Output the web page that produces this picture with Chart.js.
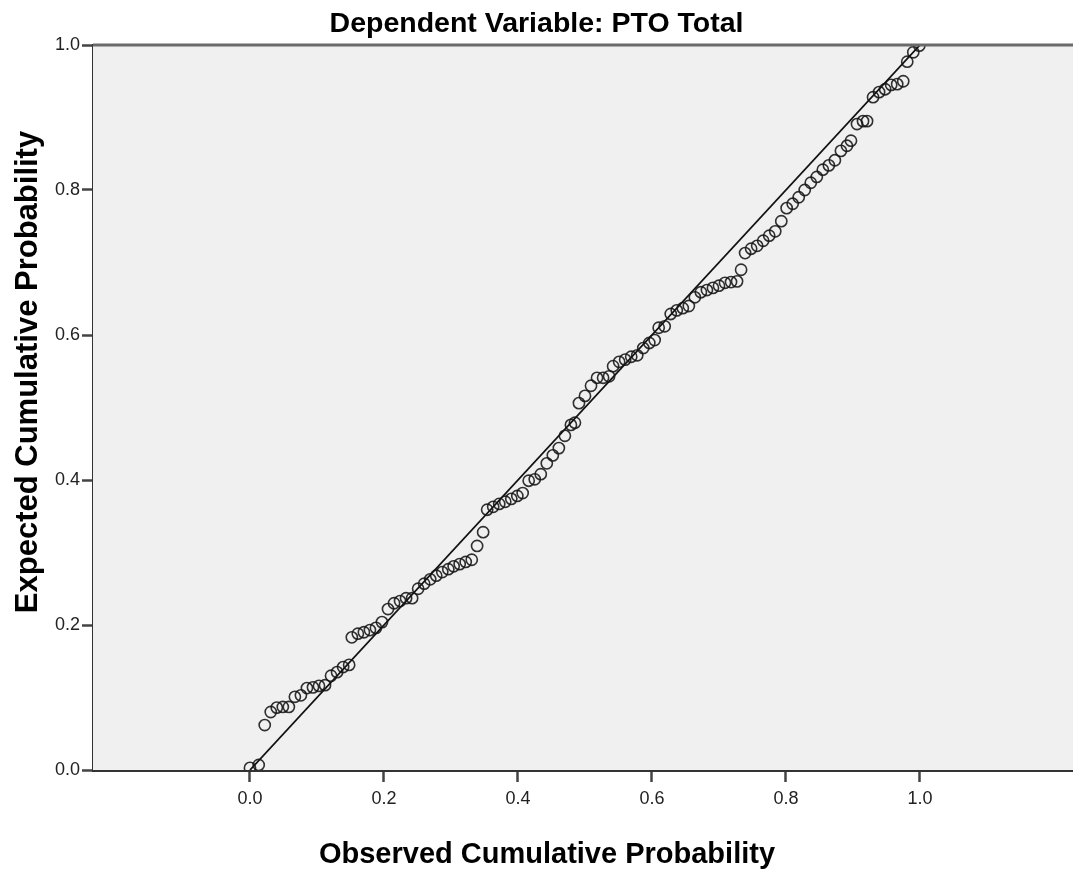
<!DOCTYPE html>
<html>
<head>
<meta charset="utf-8">
<script src="https://cdn.jsdelivr.net/npm/chart.js@4.4.1/dist/chart.umd.min.js"></script>
<style>
  html, body { margin: 0; padding: 0; background: #ffffff; overflow: hidden; }
  #wrap { width: 1073px; height: 871px; }
  canvas { display: block; }
</style>
</head>
<body>
<div id="wrap"><canvas id="c" width="1073" height="871"></canvas></div>
<script>
// ---- data ----
const chartTitle = "Dependent Variable: PTO Total";
const xAxisTitle = "Observed Cumulative Probability";
const yAxisTitle = "Expected Cumulative Probability";

const xTickValues = [0.0, 0.2, 0.4, 0.6, 0.8, 1.0];
const yTickValues = [0.0, 0.2, 0.4, 0.6, 0.8, 1.0];

const observedCum = [
  0.000, 0.013, 0.022, 0.031, 0.040, 0.049, 0.058, 0.067, 0.076, 0.085,
  0.094, 0.103, 0.112, 0.121, 0.130, 0.139, 0.148, 0.152, 0.161, 0.170,
  0.179, 0.188, 0.197, 0.206, 0.215, 0.224, 0.233, 0.242, 0.251, 0.260,
  0.269, 0.278, 0.287, 0.296, 0.304, 0.313, 0.322, 0.331, 0.339, 0.348,
  0.354, 0.363, 0.372, 0.381, 0.390, 0.399, 0.407, 0.416, 0.425, 0.434,
  0.443, 0.452, 0.461, 0.470, 0.479, 0.485, 0.491, 0.500, 0.509, 0.518,
  0.527, 0.536, 0.542, 0.551, 0.560, 0.569, 0.578, 0.587, 0.596, 0.604,
  0.610, 0.619, 0.628, 0.637, 0.646, 0.655, 0.664, 0.673, 0.682, 0.691,
  0.700, 0.709, 0.718, 0.727, 0.733, 0.739, 0.748, 0.757, 0.766, 0.775,
  0.784, 0.793, 0.801, 0.810, 0.819, 0.828, 0.837, 0.846, 0.855, 0.864,
  0.873, 0.882, 0.891, 0.897, 0.906, 0.915, 0.921, 0.930, 0.939, 0.948,
  0.957, 0.966, 0.975, 0.981, 0.990, 0.999
];
const expectedCum = [
  0.003, 0.007, 0.062, 0.080, 0.086, 0.087, 0.087, 0.101, 0.103, 0.113,
  0.114, 0.116, 0.117, 0.130, 0.135, 0.142, 0.145, 0.183, 0.188, 0.190,
  0.193, 0.196, 0.204, 0.222, 0.230, 0.233, 0.237, 0.237, 0.250, 0.257,
  0.263, 0.268, 0.273, 0.277, 0.281, 0.284, 0.287, 0.290, 0.309, 0.328,
  0.359, 0.363, 0.367, 0.370, 0.374, 0.378, 0.382, 0.399, 0.401, 0.408,
  0.423, 0.434, 0.444, 0.461, 0.476, 0.479, 0.506, 0.516, 0.530, 0.541,
  0.541, 0.543, 0.557, 0.563, 0.566, 0.570, 0.572, 0.582, 0.589, 0.593,
  0.610, 0.612, 0.629, 0.634, 0.637, 0.640, 0.652, 0.659, 0.662, 0.665,
  0.668, 0.672, 0.673, 0.674, 0.690, 0.713, 0.719, 0.723, 0.730, 0.737,
  0.743, 0.757, 0.775, 0.781, 0.790, 0.800, 0.810, 0.818, 0.828, 0.834,
  0.841, 0.854, 0.861, 0.868, 0.891, 0.895, 0.895, 0.928, 0.935, 0.939,
  0.945, 0.946, 0.950, 0.977, 0.990, 0.999
];

const refLineX = [0, 1];
const refLineY = [0, 1];

// ---- chart ----
const points = observedCum.map((x, i) => ({ x: x, y: expectedCum[i] }));
const refLine = refLineX.map((x, i) => ({ x: x, y: refLineY[i] }));

const FONT = "'Liberation Sans', Arial, sans-serif";

const plotDecor = {
  id: 'plotDecor',
  beforeDatasetsDraw(chart) {
    const { ctx, chartArea: a } = chart;
    ctx.save();
    ctx.fillStyle = '#f0f0f0';
    ctx.fillRect(a.left, a.top, a.right - a.left, a.bottom - a.top);
    ctx.restore();
  },
  afterDraw(chart) {
    const { ctx, chartArea: a } = chart;
    ctx.save();
    // top frame line
    ctx.strokeStyle = '#6a6a6a';
    ctx.lineWidth = 3;
    ctx.beginPath();
    ctx.moveTo(a.left, a.top);
    ctx.lineTo(a.right, a.top);
    ctx.stroke();
    // axis titles
    ctx.fillStyle = '#000';
    ctx.textAlign = 'center';
    ctx.textBaseline = 'middle';
    ctx.font = "bold 29px " + FONT;
    ctx.fillText(xAxisTitle, 547, 855);
    ctx.translate(28, 372);
    ctx.rotate(-Math.PI / 2);
    ctx.font = "bold 31px " + FONT;
    ctx.fillText(yAxisTitle, 0, 0);
    ctx.restore();
  }
};

new Chart(document.getElementById('c'), {
  data: {
    datasets: [
      {
        type: 'line',
        data: refLine,
        borderColor: '#111111',
        borderWidth: 1.8,
        pointRadius: 0,
        fill: false,
        order: 2
      },
      {
        type: 'scatter',
        data: points,
        pointStyle: 'circle',
        pointRadius: 5.6,
        pointBorderWidth: 1.6,
        borderColor: 'rgba(20,20,20,0.88)',
        backgroundColor: 'rgba(0,0,0,0)',
        pointBackgroundColor: 'rgba(0,0,0,0)',
        pointBorderColor: 'rgba(20,20,20,0.88)',
        order: 1
      }
    ]
  },
  options: {
    responsive: false,
    devicePixelRatio: 1,
    animation: false,
    events: [],
    layout: { autoPadding: false, padding: { left: 0, right: 0, top: 0, bottom: 0 } },
    plugins: {
      legend: { display: false },
      tooltip: { enabled: false },
      title: {
        display: true,
        text: chartTitle,
        color: '#000',
        font: { family: FONT, size: 28.5, weight: 'bold', lineHeight: 1.2 },
        padding: { top: 7, bottom: 3.8 }
      }
    },
    scales: {
      x: {
        type: 'linear',
        position: 'bottom',
        min: -0.2343,
        max: 1.2284,
        afterBuildTicks(scale) { scale.ticks = xTickValues.map(v => ({ value: v })); },
        afterFit(scale) { scale.height = 101; scale.paddingLeft = 0; scale.paddingRight = 0; },
        ticks: {
          color: '#222',
          font: { family: FONT, size: 18 },
          padding: 6,
          maxRotation: 0,
          callback: v => Number(v).toFixed(1)
        },
        grid: {
          drawOnChartArea: false,
          drawTicks: true,
          tickLength: 12,
          tickWidth: 2.5,
          tickColor: '#444'
        },
        border: { display: true, color: '#333', width: 3 }
      },
      y: {
        type: 'linear',
        position: 'left',
        min: 0,
        max: 1,
        afterBuildTicks(scale) { scale.ticks = yTickValues.map(v => ({ value: v })); },
        afterFit(scale) { scale.width = 93; scale.paddingTop = 0; scale.paddingBottom = 0; },
        ticks: {
          color: '#222',
          font: { family: FONT, size: 18 },
          padding: 2,
          callback: v => Number(v).toFixed(1)
        },
        grid: {
          drawOnChartArea: false,
          drawTicks: true,
          tickLength: 11,
          tickWidth: 2.5,
          tickColor: '#444'
        },
        border: { display: true, color: '#333', width: 3 }
      }
    }
  },
  plugins: [plotDecor]
});
</script>
</body>
</html>
